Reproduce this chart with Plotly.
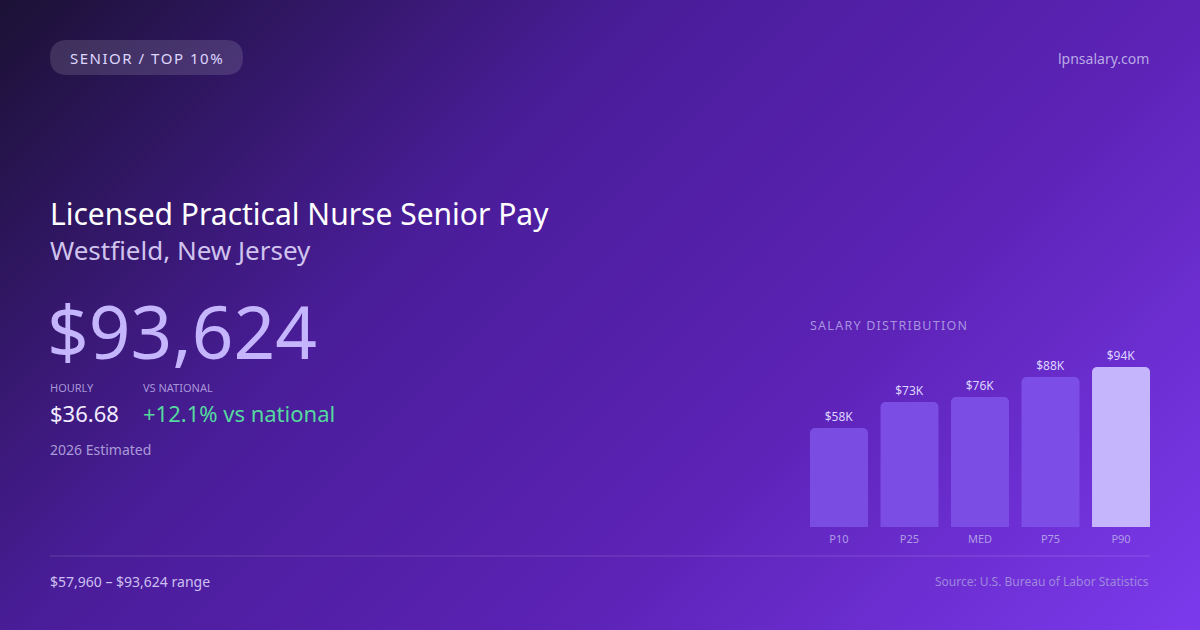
import base64
import plotly.graph_objects as go

W, H = 1200, 630

# salary distribution (annual, USD)
percentiles = ["P10", "P25", "MED", "P75", "P90"]
salaries = [57960, 73140, 76070, 87770, 93624]
bar_colors = ["#7a4ce2", "#7b4de4", "#7c4de5", "#7d4ee7", "#c4b5fd"]
bar_labels = ["$%dK" % round(v / 1000) for v in salaries]

badge = "SENIOR / TOP 10%"
title = "Licensed Practical Nurse Senior Pay"
subtitle = "Westfield, New Jersey"
headline = "$93,624"
hourly = "$36.68"
vs_national = "+12.1% vs national"
footer_range = "$57,960 – $93,624 range"
source = "Source: U.S. Bureau of Labor Statistics"
FONT = "Noto Sans"


def px(x, y):
    return x / W, 1 - y / H


def spaced(s):
    return "\u200a".join(s)


# background gradient as an svg image
svg = f"""<svg xmlns='http://www.w3.org/2000/svg' width='{W}' height='{H}'>
<defs><linearGradient id='g' gradientUnits='userSpaceOnUse' x1='142.5' y1='-142.5' x2='1057.5' y2='772.5'>
<stop offset='0' stop-color='#1b1134'/>
<stop offset='0.36' stop-color='#4a1d9a'/>
<stop offset='0.64' stop-color='#5b22b4'/>
<stop offset='1' stop-color='#7c3aed'/>
</linearGradient></defs>
<rect width='{W}' height='{H}' fill='url(#g)'/></svg>"""
bg_src = "data:image/svg+xml;base64," + base64.b64encode(svg.encode()).decode()

fig = go.Figure()
fig.add_trace(go.Bar(
    x=percentiles, y=salaries, marker=dict(color=bar_colors, cornerradius=5, line=dict(width=0)),
    text=bar_labels, textposition="outside", cliponaxis=False,
    textfont=dict(family=FONT, size=12, color="#ddd3ff"), hoverinfo="skip",
))


# rounded pill behind badge
def P(x, y):
    a, b = px(x, y)
    return f"{a:.5f},{b:.5f}"


x0, y0, x1, y1, r = 50, 40, 243, 75, 17.5
path = (f"M{P(x0 + r, y0)} L{P(x1 - r, y0)} Q{P(x1, y0)} {P(x1, y0 + r)} "
        f"Q{P(x1, y1)} {P(x1 - r, y1)} L{P(x0 + r, y1)} Q{P(x0, y1)} {P(x0, y0 + r)} "
        f"Q{P(x0, y0)} {P(x0 + r, y0)} Z")

shapes = [
    dict(type="path", path=path, xref="paper", yref="paper",
         fillcolor="rgba(255,255,255,0.13)", line=dict(width=0)),
    dict(type="line", xref="paper", yref="paper", x0=50 / W, x1=1150 / W,
         y0=1 - 556 / H, y1=1 - 556 / H, line=dict(color="rgba(255,255,255,0.16)", width=1)),
]


def label(x, y, text, size, color, anchor="left"):
    a, b = px(x, y)
    return dict(x=a, y=b, xref="paper", yref="paper", text=text, showarrow=False,
                xanchor=anchor, yanchor="middle", font=dict(family=FONT, size=size, color=color))


annotations = [
    label(146.5, 58, spaced(badge), 15, "#ddd6fe", "center"),
    label(1151, 58, "lpnsalary.com", 14, "#b9a9e6", "right"),
    label(48, 213, title, 30, "#ffffff"),
    label(48, 250, subtitle, 26, "#d0c4ee"),
    label(45, 330, headline, 73, "#c4b5fd"),
    label(48, 387, "HOURLY", 11, "#a895d8"),
    label(141, 387, "VS NATIONAL", 11, "#a895d8"),
    label(48, 413, hourly, 22, "#f1ecff"),
    label(141, 413, vs_national, 22, "#55d99e"),
    label(48, 449, "2026 Estimated", 14, "#aa9bd8"),
    label(808, 325, spaced("SALARY DISTRIBUTION"), 12.5, "#a893e0"),
    label(48, 581, footer_range, 14, "#cdc0f2"),
    label(1151, 581, source, 12, "#9f88dc", "right"),
]

fig.update_layout(
    width=W, height=H, margin=dict(l=0, r=0, t=0, b=0),
    paper_bgcolor="#4c1d95", plot_bgcolor="rgba(0,0,0,0)",
    showlegend=False, shapes=shapes, annotations=annotations, bargap=0.177,
    images=[dict(source=bg_src, xref="paper", yref="paper", x=0, y=1, sizex=1, sizey=1,
                 sizing="stretch", xanchor="left", yanchor="top", layer="below")],
    xaxis=dict(domain=[810 / W, 1150 / W], range=[-0.411, 4.411], showgrid=False, zeroline=False,
               showline=False, ticks="", ticklabelstandoff=4,
               tickfont=dict(family=FONT, size=11, color="#b09ce6"), fixedrange=True),
    yaxis=dict(domain=[1 - 527 / H, 1 - 367 / H], range=[0, 93624], visible=False, fixedrange=True),
)

fig.write_html("out.html", config={"displayModeBar": False},
               post_script="document.body.style.margin='0';document.body.style.overflow='hidden';")
